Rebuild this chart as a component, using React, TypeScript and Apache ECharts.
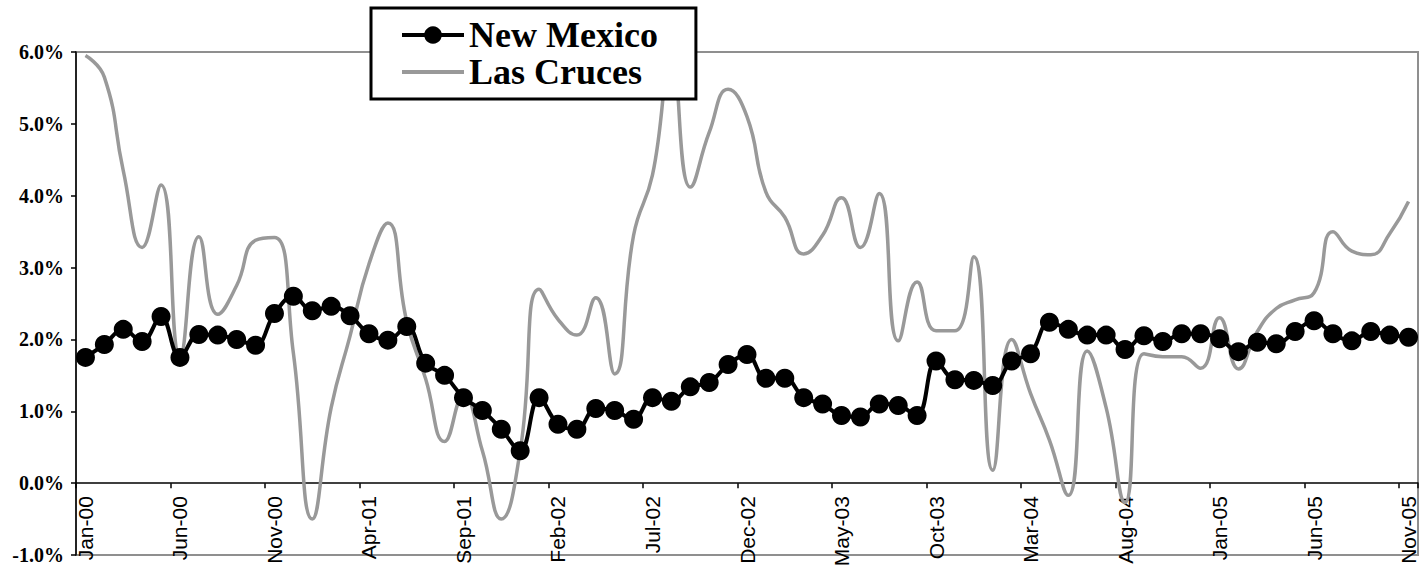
import React, { useEffect, useRef } from 'react';
import * as echarts from 'echarts';

const MONTH_NAMES = ['Jan', 'Feb', 'Mar', 'Apr', 'May', 'Jun', 'Jul', 'Aug', 'Sep', 'Oct', 'Nov', 'Dec'];
const YEARS = ['00', '01', '02', '03', '04', '05'];
const categories: string[] = YEARS.flatMap((y) => MONTH_NAMES.map((m) => `${m}-${y}`)).slice(0, 71);

const newMexico: number[] = [
  1.75, 1.93, 2.14, 1.97, 2.32, 1.75, 2.07, 2.06, 2.0, 1.92, 2.36, 2.6,
  2.4, 2.46, 2.33, 2.08, 1.99, 2.18, 1.67, 1.5, 1.19, 1.01, 0.75, 0.45,
  1.19, 0.82, 0.75, 1.04, 1.01, 0.89, 1.19, 1.14, 1.34, 1.4, 1.65, 1.79,
  1.46, 1.46, 1.19, 1.1, 0.94, 0.92, 1.1, 1.08, 0.94, 1.7, 1.44, 1.43,
  1.36, 1.7, 1.8, 2.24, 2.14, 2.06, 2.06, 1.86, 2.05, 1.97, 2.08, 2.08,
  2.01, 1.83, 1.96, 1.94, 2.11, 2.26, 2.08, 1.98, 2.11, 2.06, 2.03,
];

const lasCruces: number[] = [
  5.95, 5.65, 4.35, 3.28, 4.15, 1.76, 3.43, 2.35, 2.75, 3.38, 3.42, 1.81,
  -0.5, 1.05, 2.05, 3.05, 3.62, 2.25, 1.45, 0.58, 1.22, 0.45, -0.5, 0.45,
  2.7, 2.28, 2.06, 2.58, 1.52, 3.45, 4.29, 5.9, 4.12, 4.88, 5.48, 5.1,
  4.05, 3.7, 3.19, 3.45, 3.97, 3.28, 4.03, 1.98, 2.8, 2.12, 2.12, 3.15,
  0.18, 2.0, 1.25, 0.6, -0.17, 1.84, 1.05, -0.27, 1.8, 1.76, 1.76, 1.6,
  2.3, 1.59, 2.11, 2.43, 2.55, 2.65, 3.5, 3.23, 3.18, 3.47, 3.92,
];

const Y_MIN = -1;
const Y_MAX = 6;
const Y_STEP = 1;

const WIDTH = 1424;
const HEIGHT = 566;
const GRID = { left: 76, right: 6, top: 52, bottom: 11 };

export default function App() {
  const ref = useRef<HTMLDivElement>(null);

  useEffect(() => {
    if (!ref.current) return;
    const chart = echarts.init(ref.current, null, { renderer: 'svg' });
    const plotHeight = HEIGHT - GRID.top - GRID.bottom;
    // place the category axis on the 0% line (labels and ticks travel with it)
    const zeroOffset = -plotHeight * (0 - Y_MIN) / (Y_MAX - Y_MIN);
    chart.setOption({
      animation: false,
      backgroundColor: '#ffffff',
      grid: {
        ...GRID,
        show: true,
        borderColor: '#8f8f8f',
        borderWidth: 2,
        backgroundColor: 'transparent',
        containLabel: false,
        outerBoundsMode: 'none',
      },
      legend: {
        orient: 'vertical',
        left: 371,
        top: 8,
        z: 10,
        data: [
          { name: 'New Mexico', lineStyle: { width: 4, color: '#000000' } },
          {
            name: 'Las Cruces',
            icon: 'path://M0,0H62V4H0Z',
            itemStyle: { color: '#999999' },
          },
        ],
        itemWidth: 62,
        itemHeight: 22,
        itemGap: 1,
        padding: [9, 38, 9, 29],
        backgroundColor: '#ffffff',
        borderColor: '#000000',
        borderWidth: 3,
        selectedMode: false,
        textStyle: {
          fontFamily: 'Liberation Serif',
          fontWeight: 'bold',
          fontSize: 36,
          color: '#000000',
        },
      },
      xAxis: {
        type: 'category',
        data: categories,
        boundaryGap: true,
        offset: zeroOffset,
        axisLine: { onZero: false, lineStyle: { color: '#000000', width: 1.5 } },
        axisTick: { show: true, interval: 4, length: 5, lineStyle: { color: '#000000', width: 1.5 } },
        axisLabel: {
          interval: 4,
          rotate: 90,
          margin: 13,
          color: '#000000',
          fontFamily: 'Liberation Sans',
          fontSize: 21,
          lineHeight: 18,
        },
        splitLine: { show: false },
      },
      yAxis: {
        type: 'value',
        min: Y_MIN,
        max: Y_MAX,
        interval: Y_STEP,
        axisLine: { show: true, lineStyle: { color: '#000000', width: 1.5 } },
        axisTick: { show: true, length: 5, lineStyle: { color: '#000000', width: 1.5 } },
        axisLabel: {
          formatter: (v: number) => `${v.toFixed(1)}%`,
          color: '#000000',
          fontFamily: 'Liberation Serif',
          fontWeight: 'bold',
          fontSize: 20,
          lineHeight: 14,
          margin: 12,
        },
        splitLine: { show: false },
      },
      series: [
        {
          name: 'New Mexico',
          type: 'line',
          data: newMexico,
          smooth: 0.4,
          symbol: 'circle',
          symbolSize: 19,
          showAllSymbol: true,
          itemStyle: { color: '#000000' },
          lineStyle: { color: '#000000', width: 4 },
          z: 3,
        },
        {
          name: 'Las Cruces',
          type: 'line',
          data: lasCruces,
          smooth: 0.5,
          symbol: 'none',
          itemStyle: { color: '#999999' },
          lineStyle: { color: '#999999', width: 3.5 },
          z: 2,
        },
      ],
    });
    return () => chart.dispose();
  }, []);

  return (
    <div
      ref={ref}
      style={{ position: 'fixed', left: 0, top: 0, width: WIDTH, height: HEIGHT, background: '#ffffff' }}
    />
  );
}
